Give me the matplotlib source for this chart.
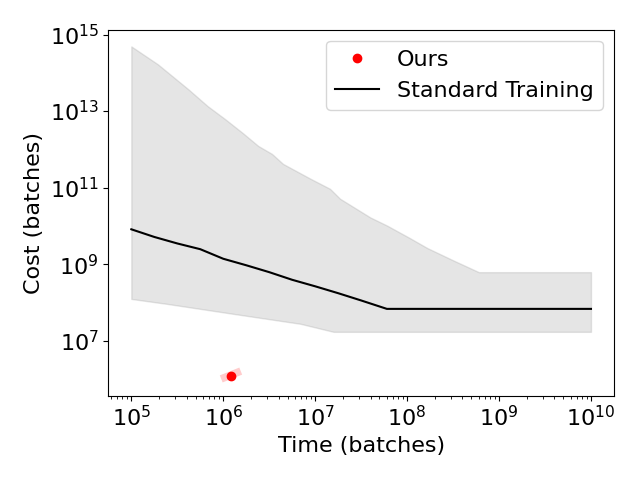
import numpy as np
import matplotlib
matplotlib.use("Agg")
import matplotlib.pyplot as plt

plt.rcParams['font.size'] = 16

# Standard training: median cost (log10) vs time (log10)
med_t = [5.0, 5.25, 5.5, 5.75, 6.0, 6.25, 6.5, 6.75, 7.0, 7.25, 7.5, 7.78, 8.0, 8.5, 9.0, 9.5, 10.0]
med_c = [9.91, 9.71, 9.54, 9.39, 9.14, 8.97, 8.79, 8.59, 8.42, 8.24, 8.05, 7.83, 7.83, 7.83, 7.83, 7.83, 7.83]

# Upper bound of band
up_t = [5.0, 5.21, 5.29, 5.62, 5.83, 6.02, 6.21, 6.38, 6.53, 6.65, 6.95, 7.16, 7.27, 7.60, 7.78, 8.03, 8.22, 8.50, 8.78, 9.0, 9.5, 10.0]
up_c = [14.69, 14.35, 14.22, 13.57, 13.13, 12.79, 12.43, 12.09, 11.88, 11.62, 11.23, 10.97, 10.71, 10.22, 10.01, 9.68, 9.42, 9.10, 8.79, 8.79, 8.79, 8.79]

# Lower bound of band
lo_t = [5.0, 5.39, 6.11, 6.84, 7.20, 7.5, 8.0, 8.5, 9.0, 9.5, 10.0]
lo_c = [8.09, 7.96, 7.70, 7.44, 7.23, 7.23, 7.23, 7.23, 7.23, 7.23, 7.23]

# Ours
ours_t = 1.22e6
ours_c = 1.2e6
ours_range_t = [9.5e5, 1.55e6]
ours_range_c = [1.0e6, 1.6e6]

grid = np.unique(np.concatenate([up_t, lo_t, med_t]))
t = 10 ** grid
upper = 10 ** np.interp(grid, up_t, up_c)
lower = 10 ** np.interp(grid, lo_t, lo_c)

fig, ax = plt.subplots(figsize=(6.4, 4.8), dpi=100)
ax.fill_between(t, lower, upper, color='gray', alpha=0.2)
ax.plot(10 ** np.array(med_t), 10 ** np.array(med_c), color='black', label='Standard Training')
ax.plot(ours_range_t, ours_range_c, color='red', alpha=0.2, linewidth=5.5, solid_capstyle='butt')
ax.plot([ours_t], [ours_c], 'o', color='red', label='Ours', linestyle='none')
ax.set_xscale('log')
ax.set_yscale('log')
ax.set_xlabel('Time (batches)')
ax.set_ylabel('Cost (batches)')
h, l = ax.get_legend_handles_labels()
ax.legend([h[1], h[0]], [l[1], l[0]], loc='upper right')
fig.tight_layout()
fig.savefig('out.png')
